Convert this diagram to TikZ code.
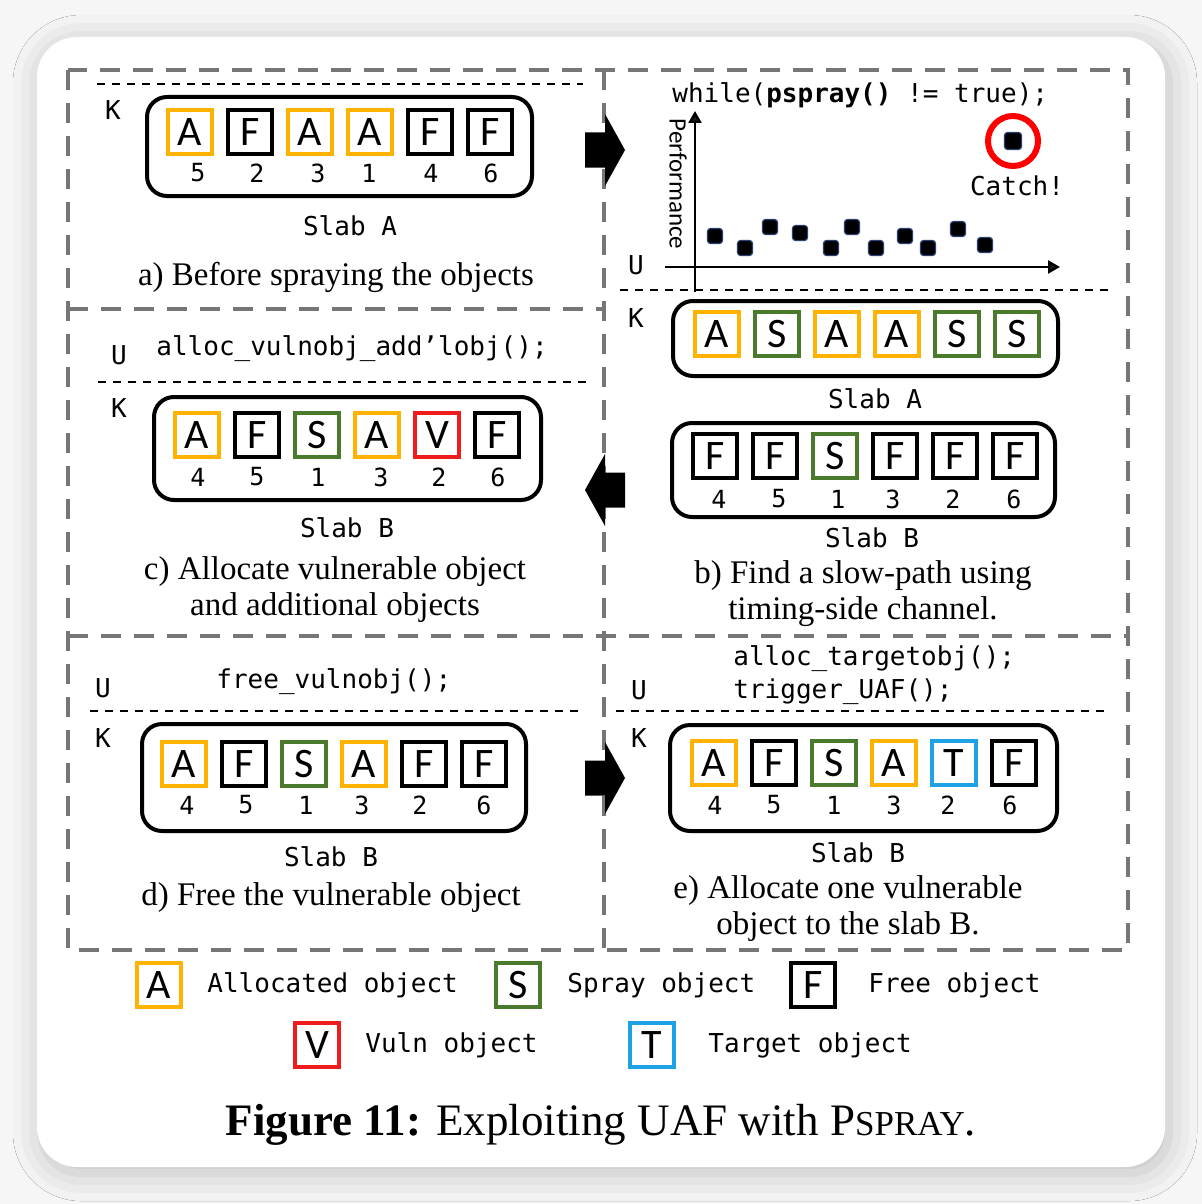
\documentclass[tikz,border=0pt]{standalone}
\usepackage{fontspec}
\setmainfont{Liberation Serif}
\newfontfamily\codefont{DejaVu Sans Mono}
\newfontfamily\cellfont{Carlito}
\usetikzlibrary{positioning, shadows.blur, arrows.meta}

\definecolor{allocC}{HTML}{FFB300}
\definecolor{sprayC}{HTML}{4A7A2B}
\definecolor{vulnC}{HTML}{EE1C1C}
\definecolor{targC}{HTML}{1EA2E6}
\definecolor{panelC}{HTML}{767676}
\definecolor{dotC}{HTML}{2B3F73}
\definecolor{pageC}{HTML}{F6F6F6}

\tikzset{
	cell/.style={draw, line width=2pt, minimum size=22pt, inner sep=0pt, font=\cellfont\fontsize{21}{21}\selectfont},
	num/.style={inner sep=0pt, font=\codefont\fontsize{12.5}{12.5}\selectfont},
	code/.style={inner sep=0pt, font=\codefont\fontsize{13}{13}\selectfont},
	caption/.style={inner sep=0pt, align=center, font=\fontsize{16.5}{18}\selectfont},
	slab/.style={line width=2pt, rounded corners=10pt},
	panel/.style={draw=panelC, line width=2pt, dash pattern=on 10pt off 6.5pt},
	sep/.style={line width=0.9pt, dash pattern=on 4pt off 3.5pt},
	dot/.style={fill=black, draw=dotC, line width=0.6pt, rounded corners=1.5pt, minimum size=7.5pt, inner sep=0pt},
}

\begin{document}
\begin{tikzpicture}[x=0.5pt, y=-0.5pt]
	\useasboundingbox[fill=pageC] (0,0) rectangle (1202,1204);
	\fill[white, rounded corners=20pt, blur shadow={shadow blur radius=14pt, shadow xshift=2pt, shadow yshift=-3pt, shadow opacity=22}] (37,37) rectangle (1165,1167);
	
	% panels
	\draw[panel] (68,70) rectangle (1128,950);
	\draw[panel] (604,70) -- (604,950);
	\draw[panel] (68,309) -- (604,309);
	\draw[panel] (68,636) -- (1128,636);
	
	% user / kernel separators
	\draw[sep] (97,84) -- (583,84);
	\draw[sep] (620,290) -- (1108,290);
	\draw[sep] (98,382) -- (592,382);
	\draw[sep] (90,711) -- (578,711);
	\draw[sep] (616,711) -- (1105,711);
	
	% step arrows
	\foreach \ay/\dir in {150/1, 490/-1, 778/1} {
		\begin{scope}[shift={(605,\ay)}, xscale=\dir]
			\fill (-20,-17.5) -- (0,-17.5) -- (0,-36) -- (20,0) -- (0,36) -- (0,17.5) -- (-20,17.5) -- cycle;
		\end{scope}
	}
	
	% a) before spraying
	\node[code] (Ka) at (113,110) {K};
	\draw[slab] (147,97) rectangle (532,196);
	\foreach \l/\c/\n/\nx [count=\i] in {A/allocC/5/198, F/black/2/257, A/allocC/3/318, A/allocC/1/369, F/black/4/431, F/black/6/491} {
		\node[cell, draw=\c] (a\i) at (130+60*\i,132) {\l};
		\node[num] (an\i) at (\nx,173) {\n};
	}
	\node[code] (slabAa) at (350,226) {Slab A};
	\node[caption] (capa) at (336,277) {a) Before spraying the objects};
	
	% b) timing side channel
	\node[code, anchor=base west] (loop) at (672,103) {while(\textbf{pspray()} != true);};
	\coordinate (yb) at (695,292);
	\coordinate (yt) at (695,111);
	\coordinate (xl) at (665,267);
	\coordinate (xr) at (1060,267);
	\draw[line width=1.2pt, -{Triangle[length=6pt,width=6.5pt]}] (yb) -- (yt);
	\draw[line width=1.2pt, -{Triangle[length=6pt,width=6.5pt]}] (xl) -- (xr);
	\node[rotate=-90, inner sep=0pt, font=\cellfont\fontsize{12.5}{12.5}\selectfont] (perf) at (678,184) {Performance};
	\node[code] (Ub) at (636,265) {U};
	\foreach \px/\py [count=\k] in {715/236, 745/248, 770/227, 800/233, 831/248, 852/227, 876/248, 905/236, 928/248, 958/229, 985/245}
		\node[dot] (pt\k) at (\px,\py) {};
	\node[circle, draw=red, line width=3pt, minimum size=25pt, inner sep=0pt] (catch) at (1013,141) {};
	\node[dot, minimum size=8.5pt] (hit) at (catch) {};
	\node[code] (catchtxt) at (1017,186) {Catch!};
	\node[code] (Kb) at (636,318) {K};
	\draw[slab] (673,301) rectangle (1058,376);
	\foreach \l/\c [count=\i] in {A/allocC, S/sprayC, A/allocC, A/allocC, S/sprayC, S/sprayC}
		\node[cell, draw=\c] (bA\i) at (657+60*\i,334) {\l};
	\node[code] (slabAb) at (875,399) {Slab A};
	\draw[slab] (672,423) rectangle (1055,517);
	\foreach \l/\c/\n/\nx [count=\i] in {F/black/4/719, F/black/5/779, S/sprayC/1/838, F/black/3/893, F/black/2/953, F/black/6/1014} {
		\node[cell, draw=\c] (bB\i) at (655+60*\i,456) {\l};
		\node[num] (bBn\i) at (\nx,499) {\n};
	}
	\node[code] (slabBb) at (872,538) {Slab B};
	\node[caption] (capb) at (863,594) {b) Find a slow-path using\\timing-side channel.};
	
	% c) vulnerable object
	\node[code] (Uc) at (119,355) {U};
	\node[code, anchor=base west] (codec) at (156,355) {alloc\_vulnobj\_add’lobj();};
	\node[code] (Kc) at (119,408) {K};
	\draw[slab] (154,397) rectangle (541,500);
	\foreach \l/\c/\n/\nx [count=\i] in {A/allocC/4/198, F/black/5/257, S/sprayC/1/318, A/allocC/3/381, V/vulnC/2/439, F/black/6/498} {
		\node[cell, draw=\c] (c\i) at (137+60*\i,435) {\l};
		\node[num] (cn\i) at (\nx,477) {\n};
	}
	\node[code] (slabBc) at (347,528) {Slab B};
	\node[caption] (capc) at (335,590) {c) Allocate vulnerable object\\and additional objects};
	
	% d) free
	\node[code] (Ud) at (103,688) {U};
	\node[code, anchor=base west] (coded) at (216,688) {free\_vulnobj();};
	\node[code] (Kd) at (103,738) {K};
	\draw[slab] (142,724) rectangle (526,831);
	\foreach \l/\c/\n/\nx [count=\i] in {A/allocC/4/187, F/black/5/246, S/sprayC/1/306, A/allocC/3/362, F/black/2/420, F/black/6/484} {
		\node[cell, draw=\c] (d\i) at (124+60*\i,764) {\l};
		\node[num] (dn\i) at (\nx,805) {\n};
	}
	\node[code] (slabBd) at (331,857) {Slab B};
	\node[caption] (capd) at (331,898) {d) Free the vulnerable object};
	
	% e) target object
	\node[code, anchor=base west] (codee1) at (733,665) {alloc\_targetobj();};
	\node[code, anchor=base west] (codee2) at (733,698) {trigger\_UAF();};
	\node[code] (Ue) at (639,690) {U};
	\node[code] (Ke) at (639,738) {K};
	\draw[slab] (670,725) rectangle (1057,831);
	\foreach \l/\c/\n/\nx [count=\i] in {A/allocC/4/715, F/black/5/774, S/sprayC/1/834, A/allocC/3/894, T/targC/2/948, F/black/6/1010} {
		\node[cell, draw=\c] (e\i) at (654+60*\i,763) {\l};
		\node[num] (en\i) at (\nx,805) {\n};
	}
	\node[code] (slabBe) at (858,853) {Slab B};
	\node[caption] (cape) at (848,909) {e) Allocate one vulnerable\\object to the slab B.};
	
	% legend
	\node[cell, draw=allocC] (legA) at (159,985) {A};
	\node[code, anchor=west] (legAt) at (207,985) {Allocated object};
	\node[cell, draw=sprayC] (legS) at (518,985) {S};
	\node[code, anchor=west] (legSt) at (567,985) {Spray object};
	\node[cell, draw=black] (legF) at (813,985) {F};
	\node[code, anchor=west] (legFt) at (868,985) {Free object};
	\node[cell, draw=vulnC] (legV) at (317,1045) {V};
	\node[code, anchor=west] (legVt) at (365,1045) {Vuln object};
	\node[cell, draw=targC] (legT) at (652,1045) {T};
	\node[code, anchor=west] (legTt) at (708,1045) {Target object};
	
	\node[inner sep=0pt, font=\fontsize{22.5}{22.5}\selectfont] (title) at (601,1125) {\textbf{Figure 11:} Exploiting UAF with P{\fontsize{17.5}{17.5}\selectfont SPRAY}.};
\end{tikzpicture}
\end{document}
